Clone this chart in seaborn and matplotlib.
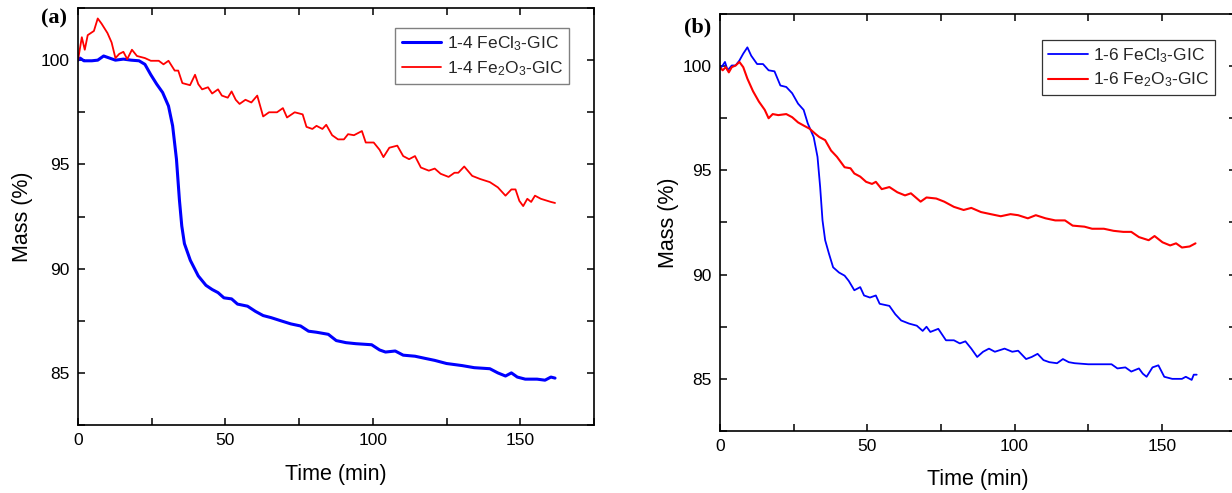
import numpy as np
import pandas as pd
import matplotlib
matplotlib.use("Agg")
import matplotlib.pyplot as plt
from matplotlib.ticker import MultipleLocator
import seaborn as sns

# ---------------- data ----------------
a_red_t = [0, 1.3, 2.3, 3.3, 5.4, 6.7, 8.0, 10, 11.4, 12.7, 14, 15.4, 16.7, 18.3, 20, 22.7, 24.7, 27.4,
           29, 30.7, 32.8, 34, 35.4, 38, 39.7, 40.8, 42.1, 44.1, 45.5, 47.5, 48.8, 50.8, 52.1, 53.5,
           54.8, 56.8, 58.8, 60.8, 62.8, 64.8, 67.5, 69.5, 70.9, 73.5, 76.2, 77.5, 79.5, 80.9, 82.9,
           84.2, 86.2, 88.2, 90.2, 91.6, 93.6, 96.3, 97.6, 100.3, 102.3, 103.6, 105.6, 108.3, 110.3,
           112.3, 114.3, 116.3, 119, 121, 123, 125.7, 127.7, 129, 131, 133.7, 136.4, 139.7, 142.4,
           145, 147, 148.4, 149.7, 151, 152.4, 153.7, 155, 157, 160.4, 161.8]
a_red_m = [100, 101.1, 100.5, 101.2, 101.4, 102.0, 101.75, 101.3, 100.85, 100.1, 100.3, 100.4, 100.05,
           100.5, 100.2, 100.1, 99.97, 99.97, 99.8, 99.97, 99.5, 99.5, 98.9, 98.8, 99.3, 98.85, 98.6,
           98.7, 98.4, 98.6, 98.3, 98.2, 98.5, 98.1, 97.9, 98.1, 97.97, 98.3, 97.3, 97.5, 97.5, 97.7,
           97.25, 97.5, 97.4, 96.8, 96.7, 96.85, 96.7, 96.9, 96.4, 96.2, 96.2, 96.45, 96.4, 96.6, 96.05,
           96.05, 95.7, 95.35, 95.8, 95.9, 95.4, 95.25, 95.4, 94.85, 94.7, 94.8, 94.55, 94.4, 94.6,
           94.6, 94.9, 94.45, 94.3, 94.15, 93.9, 93.5, 93.8, 93.8, 93.25, 93.0, 93.35, 93.2, 93.5,
           93.35, 93.2, 93.15]

a_blue_t = [0, 0.7, 2, 4.7, 6.7, 8.7, 10.7, 12.7, 15.4, 18, 20.7, 22.7, 24.7, 26.7, 28.7, 30.7, 32.1,
            33.4, 34.4, 35.2, 36.1, 38.1, 40.8, 43.4, 45.5, 47.5, 49.5, 52.1, 54.1, 57.5, 60.2, 62.8,
            65.5, 68.8, 72.2, 75.5, 78.2, 80.9, 84.9, 87.6, 90.9, 94.3, 99.6, 102.3, 104.3, 107.6,
            110.3, 114.3, 117.6, 121, 125, 130.3, 134.4, 139.7, 142.4, 145, 147, 149, 151.7, 155.7,
            158.4, 160.4, 161.8]
a_blue_m = [100, 100.1, 99.97, 99.97, 100, 100.2, 100.1, 100, 100.05, 100, 99.97, 99.8, 99.3, 98.85,
            98.45, 97.8, 96.85, 95.25, 93.3, 92.05, 91.2, 90.4, 89.65, 89.2, 89.0, 88.85, 88.6, 88.55,
            88.3, 88.2, 87.95, 87.75, 87.65, 87.5, 87.35, 87.25, 87.0, 86.95, 86.85, 86.55, 86.45,
            86.4, 86.35, 86.1, 86.0, 86.05, 85.85, 85.8, 85.7, 85.6, 85.45, 85.35, 85.25, 85.2, 85.0,
            84.85, 85.0, 84.8, 84.7, 84.7, 84.65, 84.8, 84.75]

b_red_t = [0, 0.9, 2, 3, 4, 5.3, 6.6, 7.9, 9.3, 11.2, 13.2, 15.2, 16.5, 17.9, 19.8, 22.5, 24.5, 26.5,
           28.4, 30.4, 32.4, 33.7, 35.7, 37.7, 39.7, 42.3, 44.3, 45.6, 47.6, 49.6, 51.6, 52.9, 54.9,
           57.5, 60.2, 62.8, 64.8, 68.1, 70.1, 73.4, 76.1, 79.4, 82.7, 85.3, 88.6, 91.9, 95.3, 98.6,
           101.2, 104.5, 107.2, 110.5, 113.8, 117.1, 119.7, 123.7, 126.3, 130.3, 133.6, 136.9, 139.6,
           142.2, 145.5, 147.5, 150.2, 152.8, 154.8, 156.8, 159.4, 161.4]
b_red_m = [99.95, 99.8, 99.95, 99.7, 99.95, 100.03, 100.2, 99.95, 99.4, 98.8, 98.3, 97.9, 97.5, 97.7,
           97.65, 97.7, 97.55, 97.3, 97.15, 97.0, 96.75, 96.6, 96.45, 95.95, 95.65, 95.15, 95.1,
           94.85, 94.7, 94.45, 94.35, 94.45, 94.1, 94.2, 93.95, 93.8, 93.9, 93.5, 93.7, 93.65, 93.5,
           93.25, 93.1, 93.2, 93.0, 92.9, 92.8, 92.9, 92.85, 92.7, 92.85, 92.7, 92.6, 92.6, 92.35,
           92.3, 92.2, 92.2, 92.1, 92.05, 92.05, 91.8, 91.65, 91.85, 91.55, 91.4, 91.5, 91.3, 91.35,
           91.5]

b_blue_t = [0, 0.9, 1.7, 2.6, 4, 5.3, 6.6, 7.9, 9.3, 10.6, 12.6, 14.6, 16.5, 18.5, 20.5, 22.5, 24.5,
            26.5, 28.4, 29.8, 31.8, 33.1, 34, 34.8, 35.7, 37, 38.4, 40.4, 42.3, 43.7, 45.6, 47.6,
            48.9, 50.9, 52.9, 54.2, 57.5, 59.5, 61.5, 64.2, 66.8, 68.8, 70.1, 71.4, 74.1, 76.7, 79.4,
            81.4, 83.3, 85.3, 87.3, 89.3, 91.3, 93.3, 96.6, 99.2, 101.2, 103.9, 105.8, 107.8, 109.8,
            111.8, 114.4, 116.4, 118.4, 120.4, 125, 132.9, 134.9, 137.6, 139.6, 142.2, 143.5, 144.8,
            146.8, 148.8, 150.8, 153.5, 156.8, 158.1, 160.1, 160.8, 161.8]
b_blue_m = [99.87, 100.03, 100.2, 99.8, 100.03, 100.03, 100.27, 100.6, 100.9, 100.5, 100.1, 100.1,
            99.8, 99.75, 99.07, 99.0, 98.7, 98.2, 97.9, 97.25, 96.6, 95.65, 94.2, 92.6, 91.65, 91.0,
            90.35, 90.1, 89.95, 89.7, 89.25, 89.4, 89.0, 88.9, 89.0, 88.6, 88.5, 88.1, 87.8, 87.65,
            87.55, 87.3, 87.5, 87.25, 87.4, 86.85, 86.85, 86.7, 86.8, 86.45, 86.05, 86.3, 86.45, 86.3,
            86.45, 86.3, 86.35, 85.95, 86.05, 86.2, 85.9, 85.8, 85.75, 85.95, 85.8, 85.75, 85.7, 85.7,
            85.5, 85.55, 85.35, 85.5, 85.25, 85.1, 85.55, 85.65, 85.1, 85.0, 85.0, 85.1, 84.95, 85.2,
            85.2]

labels_a = ["1-4 FeCl$_3$-GIC", "1-4 Fe$_2$O$_3$-GIC"]
labels_b = ["1-6 FeCl$_3$-GIC", "1-6 Fe$_2$O$_3$-GIC"]
panel_labels = ["(a)", "(b)"]
x_label = "Time (min)"
y_label = "Mass (%)"

# ---------------- style ----------------
sns.set_theme(style="white")
plt.rcParams["font.family"] = ["Liberation Sans", "DejaVu Sans"]
plt.rcParams["mathtext.fontset"] = "custom"
plt.rcParams["mathtext.rm"] = "Liberation Sans"
plt.rcParams["mathtext.it"] = "Liberation Sans"
plt.rcParams["mathtext.default"] = "regular"

fig = plt.figure(figsize=(12.32, 4.93), dpi=100)
fig.patch.set_facecolor("white")
ax_a = fig.add_axes([0.0633, 0.1379, 0.4188, 0.8458])
ax_b = fig.add_axes([0.5844, 0.1258, 0.4185, 0.8458])

BLUE = "#0000ff"
RED = "#ff0000"


def draw(ax, bt, bm, rt, rm, labels, blue_lw, red_lw):
    dfb = pd.DataFrame({"t": bt, "m": bm})
    dfr = pd.DataFrame({"t": rt, "m": rm})
    sns.lineplot(data=dfb, x="t", y="m", ax=ax, color=BLUE, lw=blue_lw,
                 estimator=None, sort=False, label=labels[0])
    sns.lineplot(data=dfr, x="t", y="m", ax=ax, color=RED, lw=red_lw,
                 estimator=None, sort=False, label=labels[1])
    ax.set_xlim(0, 175)
    ax.set_ylim(82.5, 102.5)
    ax.xaxis.set_major_locator(MultipleLocator(50))
    ax.xaxis.set_minor_locator(MultipleLocator(25))
    ax.yaxis.set_major_locator(MultipleLocator(5))
    ax.yaxis.set_minor_locator(MultipleLocator(2.5))
    ax.tick_params(which="both", direction="in", top=True, right=True,
                   bottom=True, left=True, length=5, width=1.1, color="black")
    ax.tick_params(which="major", labelsize=12.5, pad=6, labelcolor="black")
    for s in ax.spines.values():
        s.set_color("black")
        s.set_linewidth(1.2)
    ax.set_xlabel(x_label, fontsize=15.5, color="black")
    ax.set_ylabel(y_label, fontsize=15.5, color="black")


draw(ax_a, a_blue_t, a_blue_m, a_red_t, a_red_m, labels_a, 2.2, 1.3)
draw(ax_b, b_blue_t, b_blue_m, b_red_t, b_red_m, labels_b, 1.3, 1.5)

ax_a.xaxis.set_label_coords(0.5, -0.094)
ax_a.yaxis.set_label_coords(-0.088, 0.5)
ax_b.xaxis.set_label_coords(0.5, -0.092)
ax_b.yaxis.set_label_coords(-0.080, 0.5)

leg_kw = dict(loc="upper right", fontsize=12.5, frameon=True, fancybox=False, framealpha=1,
              handlelength=2.3, handletextpad=0.3, borderpad=0.35, labelspacing=0.35,
              borderaxespad=0)
leg_a = ax_a.legend(bbox_to_anchor=(0.952, 0.952), edgecolor="#808080", **leg_kw)
leg_a.get_frame().set_linewidth(1.0)
leg_b = ax_b.legend(bbox_to_anchor=(0.961, 0.938), edgecolor="#333333", **leg_kw)
leg_b.get_frame().set_linewidth(0.9)

fig.text(0.0438, 0.963, panel_labels[0], family="Liberation Serif", weight="bold",
         fontsize=16, ha="center", va="center", color="black")
fig.text(0.5666, 0.945, panel_labels[1], family="Liberation Serif", weight="bold",
         fontsize=16, ha="center", va="center", color="black")

fig.savefig("out.png", dpi=100, facecolor="white")
